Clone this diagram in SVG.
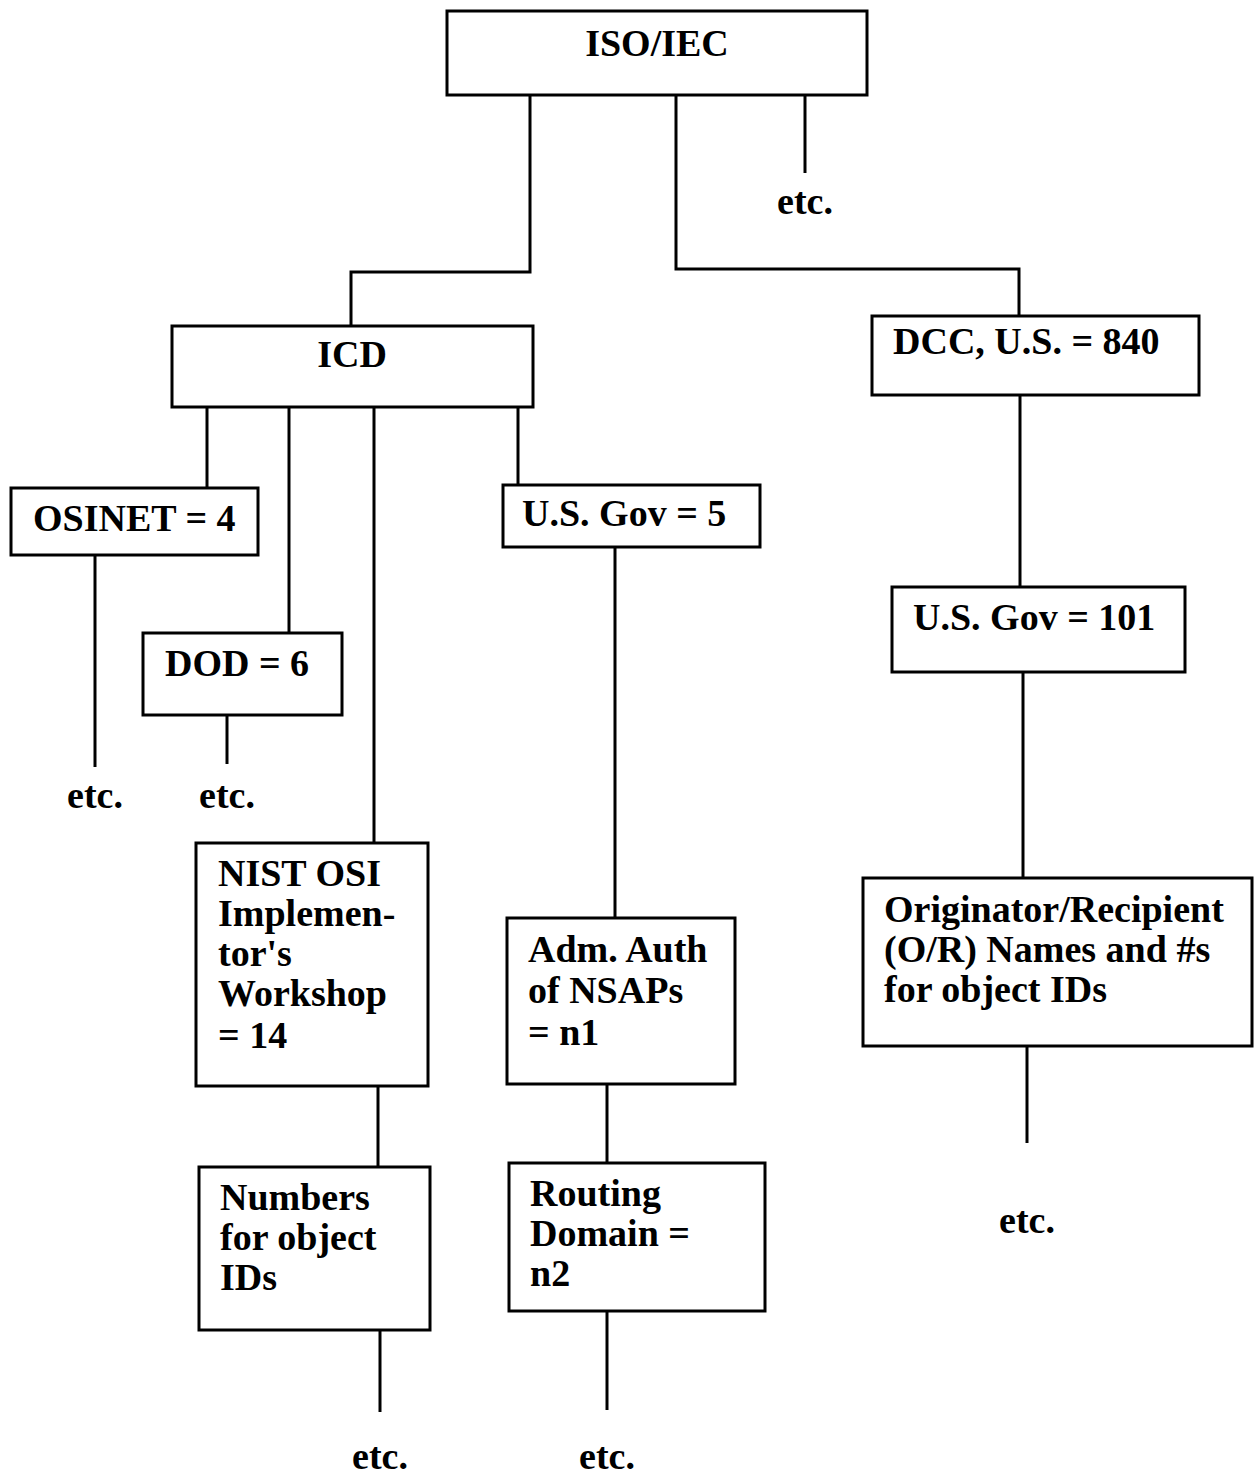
<svg xmlns="http://www.w3.org/2000/svg" width="1254" height="1475" viewBox="0 0 1254 1475">
<style>
.box{fill:#fff;stroke:#000;stroke-width:3}
.ln{stroke:#000;stroke-width:3;fill:none}
text{font-family:"Liberation Serif","Times New Roman",serif;font-weight:bold;font-size:38px;fill:#000}
.c{text-anchor:middle}
</style>
<rect width="1254" height="1475" fill="#fff"/>
<g id="connectors">
<polyline class="ln" points="530,95 530,272 351,272 351,326"/>
<polyline class="ln" points="676,95 676,269 1019,269 1019,316"/>
<line class="ln" x1="805" y1="93" x2="805" y2="173"/>
<line class="ln" x1="207" y1="407" x2="207" y2="488"/>
<line class="ln" x1="289" y1="407" x2="289" y2="633"/>
<line class="ln" x1="374" y1="407" x2="374" y2="843"/>
<line class="ln" x1="518" y1="407" x2="518" y2="485"/>
<line class="ln" x1="95" y1="555" x2="95" y2="767"/>
<line class="ln" x1="227" y1="715" x2="227" y2="764"/>
<line class="ln" x1="615" y1="547" x2="615" y2="918"/>
<line class="ln" x1="1020" y1="395" x2="1020" y2="587"/>
<line class="ln" x1="1023" y1="672" x2="1023" y2="878"/>
<line class="ln" x1="378" y1="1086" x2="378" y2="1167"/>
<line class="ln" x1="607" y1="1084" x2="607" y2="1163"/>
<line class="ln" x1="380" y1="1330" x2="380" y2="1412"/>
<line class="ln" x1="607" y1="1311" x2="607" y2="1410"/>
<line class="ln" x1="1027" y1="1046" x2="1027" y2="1143"/>
</g>
<g id="iso">
<rect class="box" x="447" y="11" width="420" height="84"/>
<text class="c" x="657" y="56">ISO/IEC</text>
</g>
<text id="etc1" class="c" x="805" y="214">etc.</text>
<g id="icd">
<rect class="box" x="172" y="326" width="361" height="81"/>
<text class="c" x="352" y="367">ICD</text>
</g>
<g id="dcc">
<rect class="box" x="872" y="316" width="327" height="79"/>
<text x="893" y="354">DCC, U.S. = 840</text>
</g>
<g id="osinet">
<rect class="box" x="11" y="488" width="247" height="67"/>
<text x="33" y="531">OSINET = 4</text>
</g>
<g id="dod">
<rect class="box" x="143" y="633" width="199" height="82"/>
<text x="165" y="676">DOD = 6</text>
</g>
<g id="usgov5">
<rect class="box" x="503" y="485" width="257" height="62"/>
<text x="522" y="526">U.S. Gov = 5</text>
</g>
<g id="usgov101">
<rect class="box" x="892" y="587" width="293" height="85"/>
<text x="913" y="630">U.S. Gov = 101</text>
</g>
<text id="etc2" class="c" x="95" y="808">etc.</text>
<text id="etc3" class="c" x="227" y="808">etc.</text>
<g id="nist">
<rect class="box" x="196" y="843" width="232" height="243"/>
<text x="218" y="886">NIST OSI</text>
<text x="218" y="926">Implemen-</text>
<text x="218" y="966">tor's</text>
<text x="218" y="1006">Workshop</text>
<text x="218" y="1048">= 14</text>
</g>
<g id="adm">
<rect class="box" x="507" y="918" width="228" height="166"/>
<text x="528" y="962">Adm. Auth</text>
<text x="528" y="1003">of NSAPs</text>
<text x="528" y="1045">= n1</text>
</g>
<g id="orig">
<rect class="box" x="863" y="878" width="389" height="168"/>
<text x="884" y="922">Originator/Recipient</text>
<text x="884" y="962">(O/R) Names and #s</text>
<text x="884" y="1002">for object IDs</text>
</g>
<g id="numbers">
<rect class="box" x="199" y="1167" width="231" height="163"/>
<text x="220" y="1210">Numbers</text>
<text x="220" y="1250">for object</text>
<text x="220" y="1290">IDs</text>
</g>
<g id="routing">
<rect class="box" x="509" y="1163" width="256" height="148"/>
<text x="530" y="1206">Routing</text>
<text x="530" y="1246">Domain =</text>
<text x="530" y="1286">n2</text>
</g>
<text id="etc4" class="c" x="1027" y="1233">etc.</text>
<text id="etc5" class="c" x="380" y="1469">etc.</text>
<text id="etc6" class="c" x="607" y="1469">etc.</text>
</svg>
